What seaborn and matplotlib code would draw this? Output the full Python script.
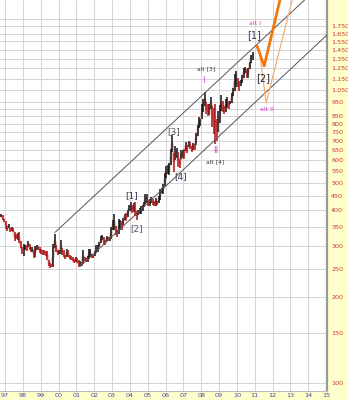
import matplotlib
matplotlib.use("Agg")
import matplotlib.pyplot as plt
import seaborn as sns
import numpy as np
import pandas as pd

# ---------------- data ----------------
start_year = 1996
start_month = 10  # October 1996
month_high = [
    388, 384, 372,
    368, 352, 358, 348, 350, 346, 335, 330, 334, 336, 313, 298,
    306, 302, 302, 314, 305, 298, 297, 292, 300, 303, 300, 297,
    293, 292, 291, 288, 289, 269, 263, 260, 305, 330, 302, 291,
    292, 316, 296, 290, 280, 293, 290, 280, 278, 275, 270, 275,
    272, 268, 267, 265, 291, 275, 272, 277, 293, 293, 283, 280,
    288, 303, 303, 310, 326, 328, 322, 316, 325, 323, 323, 349,
    369, 388, 352, 341, 373, 371, 368, 376, 390, 391, 400, 418,
    429, 419, 425, 427, 397, 400, 409, 415, 417, 429, 456, 455,
    434, 438, 447, 439, 432, 442, 432, 450, 474, 479, 495, 538,
    572, 574, 585, 654, 730, 634, 670, 660, 640, 605, 650, 650,
    652, 690, 675, 695, 690, 670, 688, 680, 745, 795, 845, 835,
    935, 975, 1030, 950, 935, 935, 990, 920, 910, 940, 830, 885,
    930, 1005, 960, 920, 980, 990, 960, 960, 1025, 1070, 1195, 1225,
    1160, 1130, 1135, 1180, 1250, 1265, 1245, 1250, 1310, 1390, 1425,
]
month_low = [
    378, 370, 364,
    344, 340, 346, 337, 339, 336, 314, 318, 316, 308, 295, 283,
    278, 290, 289, 299, 292, 286, 287, 273, 276, 291, 290, 285,
    283, 280, 279, 278, 269, 257, 252, 253, 255, 296, 286, 280,
    281, 282, 279, 275, 270, 275, 276, 270, 269, 266, 262, 265,
    262, 255, 257, 256, 263, 266, 264, 265, 271, 276, 272, 272,
    278, 284, 287, 299, 307, 315, 304, 303, 313, 312, 314, 318,
    342, 342, 329, 322, 332, 343, 343, 356, 370, 367, 378, 397,
    397, 392, 396, 381, 370, 385, 389, 389, 398, 411, 422, 426,
    414, 413, 425, 419, 414, 415, 417, 423, 435, 460, 456, 485,
    518, 536, 532, 576, 640, 545, 600, 610, 565, 560, 605, 610,
    605, 645, 635, 665, 653, 640, 650, 650, 675, 725, 775, 785,
    835, 880, 920, 865, 850, 860, 900, 780, 740, 680, 700, 750,
    805, 890, 880, 865, 880, 910, 905, 935, 945, 1000, 1045, 1075,
    1075, 1045, 1085, 1110, 1160, 1200, 1155, 1160, 1240, 1300, 1330,
]

upper_channel_x = [1999.80, 2014.10]
upper_channel_y = [335, 2250]
lower_channel_x = [2001.21, 2015.06]
lower_channel_y = [255, 1635]

main_path_x = [2011.13, 2011.53, 2012.65]
main_path_y = [1494, 1273, 2490]
alt_path_x = [2011.25, 2011.64, 2013.27]
alt_path_y = [1447, 947, 2380]

price_ticks = [100, 150, 200, 250, 300, 350, 400, 450, 500, 550, 600, 650,
               700, 750, 800, 850, 950, 1050, 1150, 1250, 1350, 1450, 1550,
               1650, 1750]
extra_grid = [900, 1850]
year_ticks = list(range(1997, 2016))
year_labels = ["%02d" % (y % 100) for y in year_ticks]

wave_text = ["[1]", "[2]", "[3]", "[4]", "[1]", "[2]",
             "I", "alt [3]", "II", "alt [4]", "alt I", "alt II"]
wave_x = [2004.12, 2004.40, 2006.48, 2006.82, 2010.97, 2011.47,
          2008.10, 2008.27, 2008.83, 2008.78, 2011.02, 2011.69]
wave_y = [450, 346, 751, 524, 1631, 1157,
          1129, 1243, 645, 590, 1796, 896]
wave_color = ["#333355", "#555566", "#555566", "#333355", "#333355", "#222233",
              "#DD44DD", "#333333", "#DD44DD", "#333333", "#CC33CC", "#CC33CC"]
wave_size = [6.5, 6.5, 6.5, 6.5, 7, 7, 6.5, 4.3, 6.5, 4.3, 4.5, 4.5]

# ---------------- figure ----------------
sns.set_style("white")
plt.rcParams['font.family'] = ['DejaVu Sans']

fig = plt.figure(figsize=(3.48, 4.0), dpi=100, facecolor="#FFFFCC")
ax = fig.add_axes([0, 9 / 400, 327 / 348, 391 / 400])
ax.set_facecolor("white")
ax.set_yscale("log")
ax.set_xlim(1996.72, 2015.05)
ax.set_ylim(94, 2160)

# grid
for y in price_ticks + extra_grid:
    ax.axhline(y, color="#D4D4D4", lw=0.7, zorder=0)
for x in year_ticks:
    ax.axvline(x, color="#D4D4D4", lw=0.7, zorder=0)

# price bars
n = len(month_high)
xs = np.array([start_year + (start_month - 1 + i + 0.5) / 12 for i in range(n)])
hi = np.array(month_high, dtype=float)
lo = np.array(month_low, dtype=float)
mid = (hi + lo) / 2
up = np.concatenate([[True], mid[1:] >= mid[:-1]])
df = pd.DataFrame({"t": xs, "p": mid})
sns.lineplot(data=df, x="t", y="p", ax=ax, color="#EBC0C0", lw=2.0, zorder=2)
ax.vlines(xs[up], lo[up], hi[up], color="#111111", lw=1.1, zorder=3)
ax.vlines(xs[~up], lo[~up], hi[~up], color="#B01010", lw=1.1, zorder=3)

# channel lines
sns.lineplot(x=upper_channel_x, y=upper_channel_y, ax=ax, color="#555555", lw=0.7, zorder=4)
sns.lineplot(x=lower_channel_x, y=lower_channel_y, ax=ax, color="#555555", lw=0.7, zorder=4)

# projections
sns.lineplot(x=alt_path_x, y=alt_path_y, ax=ax, color="#F8B070", lw=0.9, zorder=5, sort=False)
sns.lineplot(x=main_path_x, y=main_path_y, ax=ax, color="#F07810", lw=2.0, zorder=6, sort=False)

for txt, x, y, c, fs in zip(wave_text, wave_x, wave_y, wave_color, wave_size):
    ax.text(x, y, txt, color=c, fontsize=fs, ha="center", va="center", zorder=7)

# axes styling
ax.yaxis.tick_right()
ax.set_yticks(price_ticks)
ax.set_yticklabels([f"{v:,}" for v in price_ticks])
ax.yaxis.set_minor_locator(matplotlib.ticker.NullLocator())
ax.set_xticks(year_ticks)
ax.set_xticklabels(year_labels)
ax.tick_params(axis="y", length=0, pad=3, labelsize=4.6, labelcolor="#C83838")
ax.tick_params(axis="x", length=0, pad=1.5, labelsize=4.6, labelcolor="#4444AA")
ax.set_xlabel("")
ax.set_ylabel("")
for s in ["left", "top"]:
    ax.spines[s].set_visible(False)
ax.spines["right"].set_color("#999999")
ax.spines["right"].set_linewidth(1.6)
ax.spines["bottom"].set_color("#BBBBBB")
ax.spines["bottom"].set_linewidth(0.8)
if ax.get_legend() is not None:
    ax.get_legend().remove()

fig.savefig("out.png", dpi=100, facecolor=fig.get_facecolor())
